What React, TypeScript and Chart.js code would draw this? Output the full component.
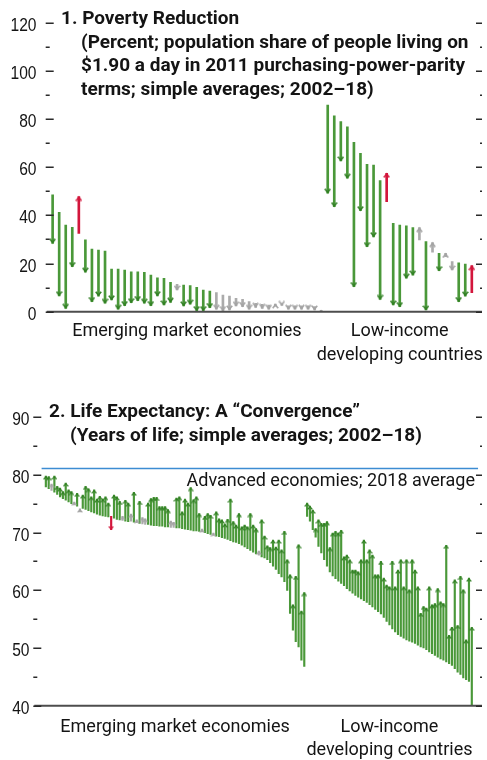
import { useEffect, useRef } from "react";
import { Chart, registerables } from "chart.js";

Chart.register(...registerables);

// ---------------- Panel 1: Poverty reduction ----------------
const POV_EM_2002 = [48.5, 41.3, 36.0, 35.0, 32.5, 29.8, 26.0, 25.6, 25.2, 17.7, 17.7, 17.3, 16.6, 16.6, 16.3, 15.2, 14.1, 13.9, 12.2, 11.4, 11.1, 10.8, 10.1, 9.0, 8.6, 7.9, 6.9, 6.5, 5.6, 5.1, 4.2, 3.5, 3.1, 2.8, 2.3, 3.3, 2.4, 2.4, 2.4, 2.4, 2.1, 0.1];
const POV_EM_2018 = [28.4, 6.6, 1.4, 18.7, 47.8, 16.4, 4.2, 6.5, 3.5, 4.9, 1.0, 2.5, 3.7, 4.6, 3.5, 2.5, 6.6, 2.8, 3.9, 9.0, 2.4, 3.1, 0.4, 0.4, 1.7, 1.0, 0.4, 0.7, 2.4, 2.1, 1.0, 1.8, 1.4, 1.0, 3.2, 2.6, 1.0, 1.0, 1.0, 1.0, 0.7, 0.6];
// g = significant improvement, r = deterioration, n = not significant
const POV_EM_SIG = ("gggg" + "r" + "gggggggggggggg" + "n" + "ggggg" + "nnnnnnnnnnnnnnnnn").split("");
const POV_LIDC_2002 = [85.8, 81.3, 78.9, 76.8, 70.3, 65.8, 61.2, 60.9, 54.4, 45.7, 36.7, 36.0, 35.7, 34.9, 29.8, 29.1, 24.7, 24.2, 22.8, 20.8, 20.3, 19.8, 7.9];
const POV_LIDC_2018 = [49.2, 43.6, 62.6, 55.4, 10.4, 41.9, 27.0, 31.1, 5.1, 57.5, 2.8, 2.1, 13.9, 15.2, 34.9, 0.7, 28.7, 17.0, 24.2, 17.3, 4.2, 6.5, 19.1];
const POV_LIDC_SIG = ("gggggggggr" + "gggg" + "n" + "g" + "n" + "g" + "nn" + "gg" + "r").split("");
const POV_Y_RANGE = [0, 120];
const POV_Y_MAJOR = 20;
const POV_Y_MINOR = 10;
const POV_TITLE = [
  "1. Poverty Reduction",
  "(Percent; population share of people living on",
  "$1.90 a day in 2011 purchasing-power-parity",
  "terms; simple averages; 2002–18)",
];

// ---------------- Panel 2: Life expectancy ----------------
const LIFE_EM_2002 = [
  77.9, 77.6, 77.3, 77.0, 76.6, 76.2, 75.9, 75.6, 75.3, 75.0,
  74.8, 74.6, 73.6, 74.2, 74.0, 73.8, 73.6, 73.4, 73.2, 73.0,
  72.9, 72.8, 72.7, 72.8, 72.5, 72.3, 72.2, 72.1, 72.0, 71.9,
  72.0, 71.8, 71.7, 71.6, 71.5, 71.4, 71.4, 71.3, 71.2, 71.2,
  71.1, 71.1, 71.0, 71.0, 70.9, 70.9, 70.8, 70.8, 70.7, 70.6,
  70.5, 70.4, 70.3, 70.3, 70.2, 70.1, 70.0, 69.8, 69.7, 69.5,
  69.4, 69.3, 69.1, 69.0, 68.8, 68.6, 68.4, 68.3, 68.1, 67.8,
  67.5, 67.2, 66.9, 66.6, 66.3, 66.1, 65.8, 65.6, 65.3, 64.8,
  64.2, 63.6, 62.9, 62.3, 61.5, 60.0, 56.0, 53.1, 51.1, 50.2,
  47.9, 46.8,
];
const LIFE_EM_2018 = [
  79.8, 79.7, 78.4, 79.8, 78.0, 77.7, 77.1, 78.6, 77.4, 77.1,
  75.3, 76.8, 74.1, 76.5, 78.0, 77.6, 76.2, 77.4, 75.8, 76.3,
  75.8, 76.2, 75.1, 70.5, 76.5, 76.2, 75.4, 72.8, 75.6, 75.1,
  73.2, 77.0, 72.2, 75.4, 72.6, 72.4, 75.1, 75.9, 76.1, 76.1,
  74.5, 74.5, 74.5, 74.0, 72.0, 71.8, 76.0, 76.2, 73.6, 75.8,
  75.1, 77.8, 75.7, 76.2, 73.3, 70.6, 72.8, 73.3, 73.0, 69.9,
  73.6, 72.4, 72.2, 71.5, 72.3, 75.8, 71.9, 71.3, 73.3, 71.0,
  71.3, 71.0, 73.3, 71.3, 70.7, 66.8, 72.2, 69.4, 67.7, 67.4,
  68.7, 67.5, 68.7, 67.0, 70.2, 65.3, 62.7, 57.5, 62.4, 67.9,
  56.4, 59.6,
];
const LIFE_EM_SIG = (
  "gg" + "n" + "ggggggg" + "n" + "g" + "n" + "gggggggggg" + "r" + "ggg" + "n" + "gg" + "n" + "g" + "n" + "g" + "nn" +
  "gggggggg" + "nn" + "ggggggggg" + "n" + "ggg" + "n" + "ggggggggggggggg" + "n" + "gggggggggggggggg"
).split("");
const LIFE_LIDC_2002 = [
  72.8, 72.0, 70.5, 69.2, 67.6, 66.5, 65.3, 64.2, 63.2, 62.5,
  62.0, 61.6, 61.2, 60.8, 60.3, 59.9, 59.5, 59.1, 58.8, 58.5,
  58.2, 57.9, 57.5, 57.1, 56.7, 56.3, 55.9, 55.3, 54.6, 54.0,
  53.3, 52.8, 52.3, 52.0, 51.7, 51.4, 51.2, 51.0, 50.8, 50.5,
  50.2, 50.0, 49.7, 49.3, 49.0, 48.7, 48.4, 48.1, 47.9, 47.6,
  47.3, 47.0, 46.4, 45.8, 45.4, 44.8, 44.5, 44.2, 40.1,
];
const LIFE_LIDC_2018 = [
  75.1, 74.6, 73.9, 70.7, 72.2, 71.6, 71.6, 71.9, 67.4, 69.9,
  70.2, 69.9, 70.4, 65.8, 66.1, 65.3, 63.5, 63.5, 63.2, 65.3,
  68.7, 65.3, 67.0, 66.1, 62.7, 62.7, 65.0, 62.1, 60.9, 60.6,
  65.0, 60.6, 63.5, 65.3, 60.6, 65.3, 60.1, 65.3, 63.5, 60.6,
  56.0, 57.2, 56.9, 60.6, 57.5, 57.7, 60.3, 58.0, 57.7, 67.8,
  52.2, 53.6, 61.8, 53.9, 62.4, 60.1, 51.4, 62.1, 53.6,
];
const LIFE_LIDC_SIG = "g".repeat(59).split("");
const ADV_2018_AVG = 81.1;
const ADV_LABEL = "Advanced economies; 2018 average";
const LIFE_Y_RANGE = [40, 90];
const LIFE_Y_MAJOR = 10;
const LIFE_Y_MINOR = 5;
const LIFE_TITLE = ["2. Life Expectancy: A “Convergence”", "(Years of life; simple averages; 2002–18)"];

const GROUP_EM = ["Emerging market economies"];
const GROUP_LIDC = ["Low-income", "developing countries"];

// ---------------- styling ----------------
const NUM_FONT = '"Liberation Sans", Arial, sans-serif';
const TXT_FONT = 'Roboto, "Liberation Sans", sans-serif';
const HEAD_COLOR: Record<string, string> = { g: "#2f7e22", r: "#d3163c", n: "#a3a3a3" };
const SHAFT_COLOR: Record<string, string> = { g: "#4a9839", r: "#d3163c", n: "#ababab" };
const TEXT_COLOR = "#141414";

function makeHead(color: string, w: number, h: number, lw: number): HTMLCanvasElement {
  const c = document.createElement("canvas");
  c.width = w;
  c.height = h * 2;
  const ctx = c.getContext("2d")!;
  ctx.strokeStyle = color;
  ctx.lineWidth = lw;
  ctx.lineJoin = "miter";
  ctx.beginPath();
  ctx.moveTo(lw / 2, h + h - lw / 2);
  ctx.lineTo(w / 2, h + lw / 2);
  ctx.lineTo(w - lw / 2, h + h - lw / 2);
  ctx.stroke();
  return c;
}

function arrowDatasets(start: number[], end: number[], sig: string[], thickness: number, headW: number, headH: number, headLw: number) {
  const heads: Record<string, HTMLCanvasElement> = {};
  for (const k of Object.keys(HEAD_COLOR)) heads[k] = makeHead(HEAD_COLOR[k], headW, headH, headLw);
  return [
    {
      type: "bar" as const,
      data: start.map((s, i) => ({ x: i, y: [s, end[i]] })),
      backgroundColor: sig.map((k) => SHAFT_COLOR[k]),
      barThickness: thickness,
      borderWidth: 0,
      order: 3,
    },
    {
      type: "scatter" as const,
      data: end.map((e, i) => ({ x: i, y: e })),
      pointStyle: (c: any) => heads[sig[c.dataIndex]],
      pointRotation: (c: any) => (end[c.dataIndex] < start[c.dataIndex] ? 180 : 0),
      pointRadius: 4,
      showLine: false,
      order: 2,
    },
  ];
}

type Deco = {
  majorStep: number;
  minorStep: number;
  labelRight: number;
  title: { text: string; x: number; y: number }[];
  groups: { lines: string[]; from: number; to: number; y: number[] }[];
  extra?: (chart: any) => void;
};

function decoPlugin(d: Deco) {
  return {
    id: "deco",
    afterDraw(chart: any) {
      const { ctx, chartArea: a, scales } = chart;
      const x = scales.x;
      const y = scales.y;
      ctx.save();
      // axis base line
      const yb = y.getPixelForValue(y.min);
      ctx.strokeStyle = "#4d4d4d";
      ctx.lineWidth = 2;
      ctx.beginPath();
      ctx.moveTo(a.left, yb);
      ctx.lineTo(a.right, yb);
      ctx.stroke();
      // tick marks (both sides, pointing inward) and condensed tick labels
      ctx.strokeStyle = "#2a2a2a";
      ctx.lineWidth = 1.6;
      ctx.fillStyle = TEXT_COLOR;
      ctx.textBaseline = "alphabetic";
      ctx.textAlign = "right";
      ctx.font = `19px ${NUM_FONT}`;
      const n = Math.round((y.max - y.min) / d.minorStep);
      for (let k = 0; k <= n; k++) {
        const v = y.min + k * d.minorStep;
        const major = Math.abs(((v - y.min) / d.majorStep) % 1) < 1e-6;
        const py = Math.round(y.getPixelForValue(v)) + 0.2;
        ctx.beginPath();
        ctx.moveTo(a.left - 1, py);
        ctx.lineTo(a.left + (major ? 7 : 3), py);
        ctx.moveTo(a.right - (major ? 6 : 2), py);
        ctx.lineTo(a.right, py);
        ctx.stroke();
        if (major) {
          ctx.save();
          ctx.translate(d.labelRight, py + 7.3);
          ctx.scale(0.82, 1);
          ctx.fillText(String(v), 0, 0);
          ctx.restore();
        }
      }
      // titles
      ctx.textAlign = "left";
      ctx.font = `bold 19px ${TXT_FONT}`;
      for (const t of d.title) ctx.fillText(t.text, t.x, t.y);
      // group labels
      ctx.textAlign = "center";
      ctx.font = `18px ${TXT_FONT}`;
      for (const g of d.groups) {
        const cx = (x.getPixelForValue(g.from) + x.getPixelForValue(g.to)) / 2;
        g.lines.forEach((l, i) => ctx.fillText(l, cx, g.y[i]));
      }
      if (d.extra) d.extra(chart);
      ctx.restore();
    },
  };
}

function baseOptions(xMin: number, xMax: number, yRange: number[], yStep: number, leftW: number, bottomH: number, top: number) {
  return {
    responsive: false,
    animation: false as const,
    devicePixelRatio: 1,
    events: [] as any[],
    layout: { padding: { top, left: 0, right: 0, bottom: 0 } },
    plugins: { legend: { display: false }, tooltip: { enabled: false }, title: { display: false } },
    scales: {
      x: {
        type: "linear" as const,
        min: xMin,
        max: xMax,
        offset: false,
        grid: { display: false, drawTicks: false, offset: false },
        border: { display: false },
        ticks: { display: false },
        afterFit: (s: any) => {
          s.height = bottomH;
        },
      },
      y: {
        type: "linear" as const,
        min: yRange[0],
        max: yRange[1],
        grid: { display: false, drawTicks: false },
        border: { display: false },
        ticks: { stepSize: yStep, display: false },
        afterFit: (s: any) => {
          s.width = leftW;
        },
      },
    },
  };
}

function povertyConfig(): any {
  const start = [...POV_EM_2002, ...POV_LIDC_2002];
  const end = [...POV_EM_2018, ...POV_LIDC_2018];
  const sig = [...POV_EM_SIG, ...POV_LIDC_SIG];
  const nEM = POV_EM_2002.length;
  const nAll = start.length;
  return {
    type: "bar",
    data: { datasets: arrowDatasets(start, end, sig, 2, 7, 5, 1.6) },
    options: baseOptions(-0.906, nAll - 1 + 1.555, POV_Y_RANGE, POV_Y_MAJOR, 46.7, 63.3, 22.7),
    plugins: [
      decoPlugin({
        majorStep: POV_Y_MAJOR,
        minorStep: POV_Y_MINOR,
        labelRight: 36.5,
        title: [
          { text: POV_TITLE[0], x: 61, y: 24 },
          { text: POV_TITLE[1], x: 81, y: 47.5 },
          { text: POV_TITLE[2], x: 81, y: 71 },
          { text: POV_TITLE[3], x: 81, y: 94.5 },
        ],
        groups: [
          { lines: GROUP_EM, from: 0, to: nEM - 1, y: [336] },
          { lines: GROUP_LIDC, from: nEM, to: nAll - 1, y: [336, 359.5] },
        ],
      }),
    ],
  };
}

function lifeConfig(): any {
  const start = [...LIFE_EM_2002, ...LIFE_LIDC_2002];
  const end = [...LIFE_EM_2018, ...LIFE_LIDC_2018];
  const sig = [...LIFE_EM_SIG, ...LIFE_LIDC_SIG];
  const nEM = LIFE_EM_2002.length;
  const nAll = start.length;
  const datasets: any[] = [
    {
      type: "line",
      data: [
        { x: -1.5, y: ADV_2018_AVG },
        { x: nAll + 1.2, y: ADV_2018_AVG },
      ],
      borderColor: "#3c8cd2",
      borderWidth: 1.6,
      pointRadius: 0,
      order: 1,
    },
    ...arrowDatasets(start, end, sig, 1.5, 6, 4, 1.3),
  ];
  return {
    type: "bar",
    data: { datasets },
    options: baseOptions(-4.07, nAll - 1 + 3.59, LIFE_Y_RANGE, LIFE_Y_MAJOR, 34.3, 54.3, 42.2),
    plugins: [
      decoPlugin({
        majorStep: LIFE_Y_MAJOR,
        minorStep: LIFE_Y_MINOR,
        labelRight: 29.5,
        title: [
          { text: LIFE_TITLE[0], x: 49, y: 42.3 },
          { text: LIFE_TITLE[1], x: 70, y: 65.7 },
        ],
        groups: [
          { lines: GROUP_EM, from: 0, to: nEM - 1, y: [356.7] },
          { lines: GROUP_LIDC, from: nEM, to: nAll - 1, y: [356.7, 380] },
        ],
        extra: (chart: any) => {
          const { ctx, scales } = chart;
          ctx.textAlign = "right";
          ctx.font = `18px ${TXT_FONT}`;
          ctx.fillStyle = TEXT_COLOR;
          ctx.fillText(ADV_LABEL, 475, scales.y.getPixelForValue(ADV_2018_AVG) + 17);
        },
      }),
    ],
  };
}

export default function App() {
  const ref1 = useRef<HTMLCanvasElement>(null);
  const ref2 = useRef<HTMLCanvasElement>(null);
  useEffect(() => {
    const c1 = new Chart(ref1.current!, povertyConfig());
    const c2 = new Chart(ref2.current!, lifeConfig());
    return () => {
      c1.destroy();
      c2.destroy();
    };
  }, []);
  return (
    <div style={{ position: "absolute", left: 0, top: 0, width: 487, height: 760, background: "#ffffff" }}>
      <canvas ref={ref1} width={487} height={375} style={{ position: "absolute", left: 0, top: 0, width: 487, height: 375 }} />
      <canvas ref={ref2} width={487} height={385} style={{ position: "absolute", left: 0, top: 375, width: 487, height: 385 }} />
    </div>
  );
}
